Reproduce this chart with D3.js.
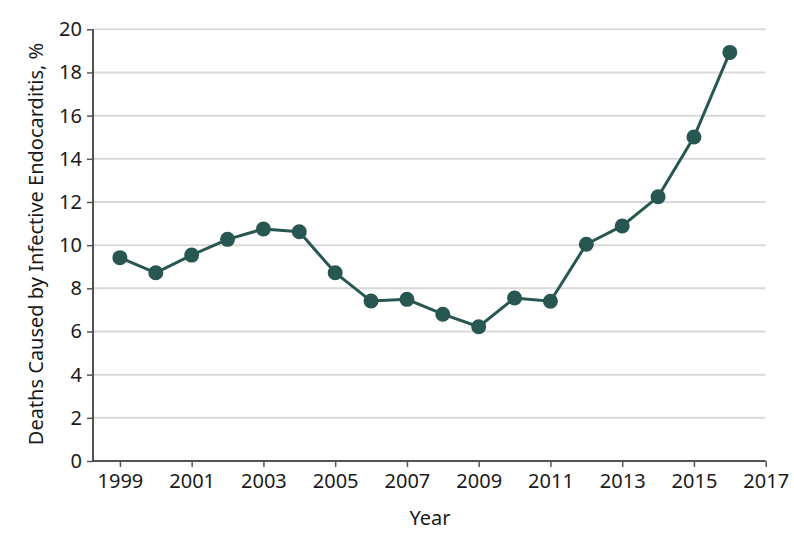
<!DOCTYPE html>
<html>
<head>
<meta charset="utf-8">
<script src="https://cdn.jsdelivr.net/npm/d3@7"></script>
<style>
html, body { margin: 0; padding: 0; background: #fff; }
svg text { font-family: "Noto Sans", "Open Sans", sans-serif; fill: #1a1a1a; }
</style>
</head>
<body>
<svg id="chart" width="794" height="546"></svg>
<script>
const years = [1999, 2000, 2001, 2002, 2003, 2004, 2005, 2006, 2007, 2008, 2009, 2010, 2011, 2012, 2013, 2014, 2015, 2016];
const deathsPct = [9.42, 8.72, 9.54, 10.27, 10.75, 10.62, 8.72, 7.41, 7.49, 6.80, 6.22, 7.55, 7.40, 10.04, 10.89, 12.24, 15.01, 18.93];
const xTickValues = [1999, 2001, 2003, 2005, 2007, 2009, 2011, 2013, 2015, 2017];
const yTickValues = [0, 2, 4, 6, 8, 10, 12, 14, 16, 18, 20];
const xTitle = "Year";
const yTitle = "Deaths Caused by Infective Endocarditis, %";

(function () {
const svg = d3.select("#chart");
const pLeft = 93, pRight = 765.7, pTop = 29.3, pBottom = 461;
const x = d3.scaleLinear().domain([1998.25, 2017]).range([pLeft, pRight]);
const y = d3.scaleLinear().domain([0, 20]).range([pBottom, pTop]);
const color = "#285752";
const fs = 20;

// gridlines
svg.append("g").selectAll("line").data(yTickValues.filter(v => v > 0)).join("line")
  .attr("x1", pLeft).attr("x2", pRight)
  .attr("y1", d => y(d)).attr("y2", d => y(d))
  .attr("stroke", "#d9d9d9").attr("stroke-width", 2);

// y axis
const yAxis = svg.append("g").attr("transform", `translate(${pLeft},0)`)
  .call(d3.axisLeft(y).tickValues(yTickValues).tickSize(6).tickPadding(5));
yAxis.select(".domain").attr("stroke", "#1a1a1a").attr("stroke-width", 1.5)
  .attr("d", `M0,${pBottom}V${pTop}`);
yAxis.selectAll(".tick line").attr("stroke", "#555").attr("stroke-width", 1.5);
yAxis.selectAll(".tick text").attr("font-size", fs).attr("font-family", "Noto Sans").attr("fill", "#1a1a1a");

// x axis
const xAxis = svg.append("g").attr("transform", `translate(0,${pBottom})`)
  .call(d3.axisBottom(x).tickValues(xTickValues).tickFormat(d3.format("d")).tickSize(6).tickPadding(7));
xAxis.select(".domain").attr("stroke", "#1a1a1a").attr("stroke-width", 1.5)
  .attr("d", `M${pLeft},0H${pRight}`);
xAxis.selectAll(".tick line").attr("stroke", "#555").attr("stroke-width", 1.5);
xAxis.selectAll(".tick text").attr("font-size", fs).attr("font-family", "Noto Sans").attr("fill", "#1a1a1a");

// line
const data = years.map((yr, i) => ({ yr, v: deathsPct[i] }));
svg.append("path").datum(data)
  .attr("fill", "none").attr("stroke", color).attr("stroke-width", 3)
  .attr("d", d3.line().x(d => x(d.yr)).y(d => y(d.v)));
svg.append("g").selectAll("circle").data(data).join("circle")
  .attr("cx", d => x(d.yr)).attr("cy", d => y(d.v)).attr("r", 7.5)
  .attr("fill", color);

// titles
svg.append("text").attr("x", 430).attr("y", 525).attr("text-anchor", "middle")
  .attr("font-size", fs).text(xTitle);
svg.append("text").attr("transform", "translate(43,244) rotate(-90)").attr("text-anchor", "middle")
  .attr("font-size", fs).text(yTitle);
})();
</script>
</body>
</html>
